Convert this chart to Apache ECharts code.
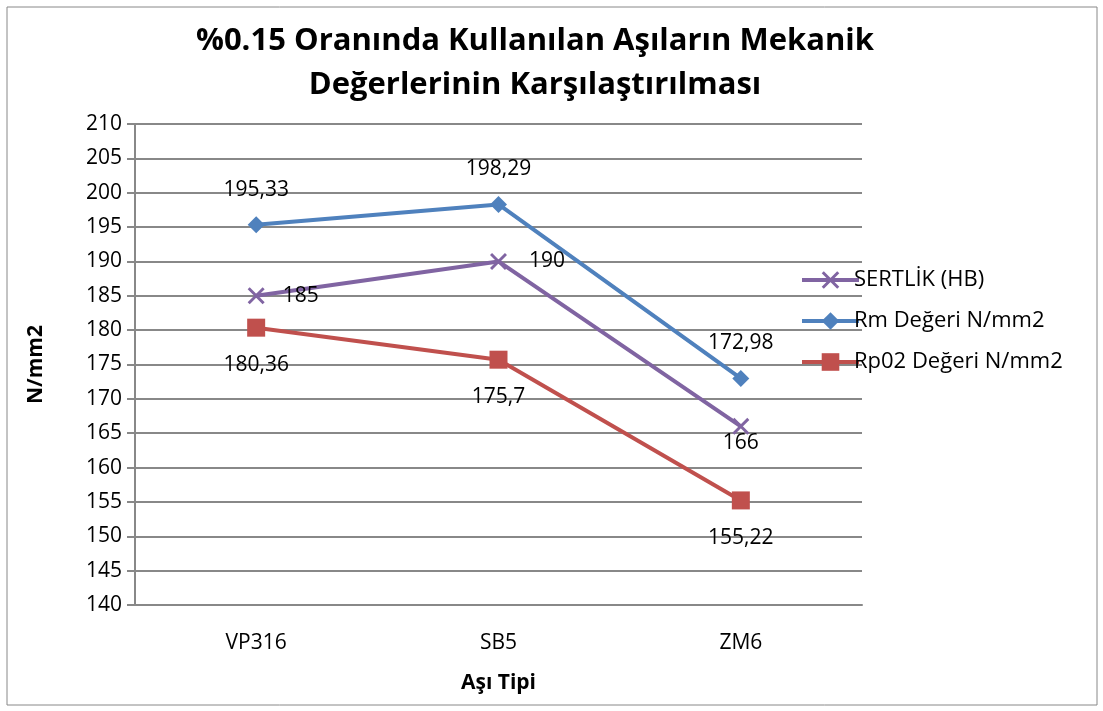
<!DOCTYPE html>
<html>
<head>
    <meta charset="utf-8">
    <title>ECharts</title>
    <script src="https://cdn.jsdelivr.net/npm/echarts@6/dist/echarts.min.js"></script>
    <style>
        html, body { margin: 0; padding: 0; background: #fff; }
    </style>
</head>
<body>
    <div id="main" style="width: 1103px;height:711px;"></div>
    <script type="text/javascript">
        var categories = ['VP316', 'SB5', 'ZM6'];
        var sertlik = [185, 190, 166];
        var rmValues = [195.33, 198.29, 172.98];
        var rp02Values = [180.36, 175.7, 155.22];
        var yTicks = { min: 140, max: 210, step: 5 };

        var fontName = 'Open Sans';
        var crossPath = 'path://M0,1.2L1.2,0L10,8.8L8.8,10ZM8.8,0L10,1.2L1.2,10L0,8.8Z';

        function fmt(v) { return String(v).replace('.', ','); }

        // label positions per point, like the original
        var sertlikPos = ['right', 'right', 'bottom'];
        var sertlikDist = [18, 22, -2];

        var myChart = echarts.init(document.getElementById('main'));
        var labelStyle = { fontFamily: fontName, fontSize: 21, color: '#000' };

        var option = {
            backgroundColor: '#fff',
            animation: false,
            graphic: [{
                type: 'rect',
                shape: { x: 7, y: 7, width: 1090, height: 698 },
                style: { fill: 'none', stroke: '#888', lineWidth: 1 }
            }],
            title: {
                text: '%0.15 Oranında Kullanılan Aşıların Mekanik\nDeğerlerinin Karşılaştırılması',
                left: 530,
                textAlign: 'center',
                top: 14,
                textStyle: { fontFamily: fontName, fontWeight: 'bold', fontSize: 31, lineHeight: 44, color: '#000' }
            },
            legend: {
                orient: 'vertical',
                left: 795,
                top: 264,
                itemGap: 19,
                itemWidth: 57,
                itemHeight: 22,
                lineStyle: { width: 4 },
                textStyle: { fontFamily: fontName, fontSize: 22, color: '#000', padding: [0, 0, 0, -10] },
                data: ['SERTLİK (HB)', 'Rm Değeri N/mm2', 'Rp02 Değeri N/mm2']
            },
            grid: { left: 135, right: 241, top: 124, bottom: 106 },
            xAxis: {
                type: 'category',
                data: categories,
                name: 'Aşı Tipi',
                nameLocation: 'middle',
                nameGap: 68,
                nameTextStyle: { fontFamily: fontName, fontWeight: 'bold', fontSize: 21, color: '#000' },
                axisLine: { lineStyle: { color: '#888', width: 2 } },
                axisTick: { show: false },
                axisLabel: { fontFamily: fontName, fontSize: 21, color: '#000', margin: 28 }
            },
            yAxis: {
                type: 'value',
                min: yTicks.min,
                max: yTicks.max,
                interval: yTicks.step,
                name: 'N/mm2',
                nameLocation: 'middle',
                nameGap: 88,
                nameTextStyle: { fontFamily: fontName, fontWeight: 'bold', fontSize: 21, color: '#000' },
                axisLine: { show: true, lineStyle: { color: '#888', width: 2 } },
                axisTick: { show: true, length: 8, lineStyle: { color: '#888', width: 2 } },
                axisLabel: { fontFamily: fontName, fontSize: 21, color: '#000', margin: 13 },
                splitLine: { lineStyle: { color: '#888', width: 2 } }
            },
            series: [{
                name: 'Rm Değeri N/mm2',
                type: 'line',
                data: rmValues,
                symbol: 'diamond',
                symbolSize: 17,
                lineStyle: { color: '#4F81BD', width: 4 },
                itemStyle: { color: '#4F81BD' },
                label: Object.assign({ show: true, position: 'top', distance: 16, formatter: function (p) { return fmt(p.value); } }, labelStyle)
            }, {
                name: 'Rp02 Değeri N/mm2',
                type: 'line',
                data: rp02Values,
                symbol: 'rect',
                symbolSize: 18,
                lineStyle: { color: '#C0504D', width: 4 },
                itemStyle: { color: '#C0504D' },
                label: Object.assign({ show: true, position: 'bottom', distance: 18, formatter: function (p) { return fmt(p.value); } }, labelStyle)
            }, {
                name: 'SERTLİK (HB)',
                type: 'line',
                data: sertlik.map(function (v, i) {
                    return { value: v, label: { position: sertlikPos[i], distance: sertlikDist[i] } };
                }),
                symbol: crossPath,
                symbolSize: 17,
                lineStyle: { color: '#8064A2', width: 4 },
                itemStyle: { color: '#8064A2' },
                label: Object.assign({ show: true, formatter: function (p) { return fmt(p.value); } }, labelStyle)
            }]
        };

        myChart.setOption(option);
    </script>
</body>
</html>
